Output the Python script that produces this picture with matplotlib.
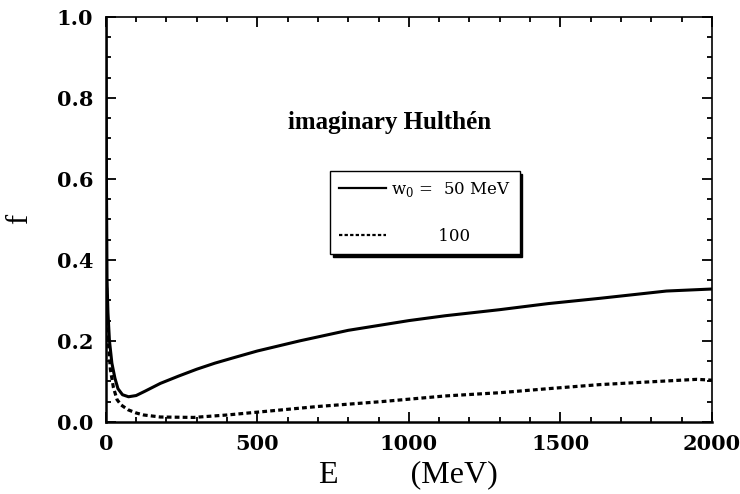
import numpy as np
import matplotlib
matplotlib.use("Agg")
import matplotlib.pyplot as plt
from matplotlib.ticker import MultipleLocator, FormatStrFormatter

plt.rcParams['font.family'] = ['Liberation Serif', 'DejaVu Serif']
plt.rcParams['mathtext.fontset'] = 'custom'
plt.rcParams['mathtext.rm'] = 'DejaVu Serif'
plt.rcParams['mathtext.bf'] = 'DejaVu Serif:bold'

E_w50 = [0, 2, 4, 7, 12, 20, 30, 40, 55, 75, 100, 130, 180, 240, 300, 360,
         420, 500, 640, 800, 1000, 1120, 1300, 1460, 1630, 1850, 2000]
f_w50 = [1.0, 0.6, 0.35, 0.27, 0.2, 0.145, 0.108, 0.082, 0.067, 0.062, 0.065,
         0.076, 0.095, 0.113, 0.13, 0.145, 0.158, 0.175, 0.2, 0.226, 0.25,
         0.262, 0.277, 0.292, 0.305, 0.323, 0.328]

E_w100 = [0, 3, 8, 15, 25, 37, 50, 73, 100, 125, 180, 290, 400, 500, 700,
          910, 1000, 1120, 1300, 1460, 1630, 1850, 1950, 2000]
f_w100 = [0.43, 0.3, 0.2, 0.13, 0.085, 0.055, 0.042, 0.03, 0.022, 0.017,
          0.012, 0.011, 0.017, 0.024, 0.038, 0.05, 0.056, 0.064, 0.072,
          0.082, 0.092, 0.101, 0.105, 0.103]

labels = [r"$\mathrm{w}_\mathrm{0}$ =  50 MeV", "         100"]

fig = plt.figure(figsize=(7.4, 4.94), dpi=100)
ax = fig.add_axes([0.143, 0.146, 0.819, 0.820])

l1, = ax.plot(E_w50, f_w50, color='black', lw=2.2, solid_joinstyle='round')
l2, = ax.plot(E_w100, f_w100, color='black', lw=2.3, ls=(0, (1.5, 1.0)))

ax.set_xlim(0, 2000)
ax.set_ylim(0, 1.0)
ax.xaxis.set_major_locator(MultipleLocator(500))
ax.xaxis.set_minor_locator(MultipleLocator(100))
ax.yaxis.set_major_locator(MultipleLocator(0.2))
ax.yaxis.set_minor_locator(MultipleLocator(0.05))
ax.yaxis.set_major_formatter(FormatStrFormatter('%.1f'))

ax.tick_params(which='both', direction='in', top=True, right=True, width=1.3)
ax.tick_params(which='major', length=7, pad=9, labelsize=15)
ax.tick_params(which='minor', length=3.5)
for lab in ax.get_xticklabels() + ax.get_yticklabels():
    lab.set_fontweight('bold')
    lab.set_family('DejaVu Serif')
for sp in ax.spines.values():
    sp.set_linewidth(1.2)
ax.spines['left'].set_linewidth(1.8)
ax.spines['bottom'].set_linewidth(1.8)

ax.set_xlabel("E         (MeV)", fontsize=23, labelpad=4)
ax.set_ylabel("f", fontsize=22, labelpad=16)

ax.text(0.30, 0.738, "imaginary Hulthén", transform=ax.transAxes,
        fontsize=18, fontweight='bold', va='center', ha='left')

leg = ax.legend([l1, l2], labels, loc='upper left',
                bbox_to_anchor=(0.37, 0.62), frameon=True, fancybox=False,
                shadow={'color': 'black', 'alpha': 1.0},
                edgecolor='black', framealpha=1.0,
                prop={'family': 'DejaVu Serif', 'size': 12},
                handlelength=2.8, handletextpad=0.3, labelspacing=1.75,
                borderpad=0.55, borderaxespad=0)
leg.get_frame().set_linewidth(1.0)
for h in leg.get_lines():
    h.set_linewidth(1.6)

fig.savefig("out.png", dpi=100)
